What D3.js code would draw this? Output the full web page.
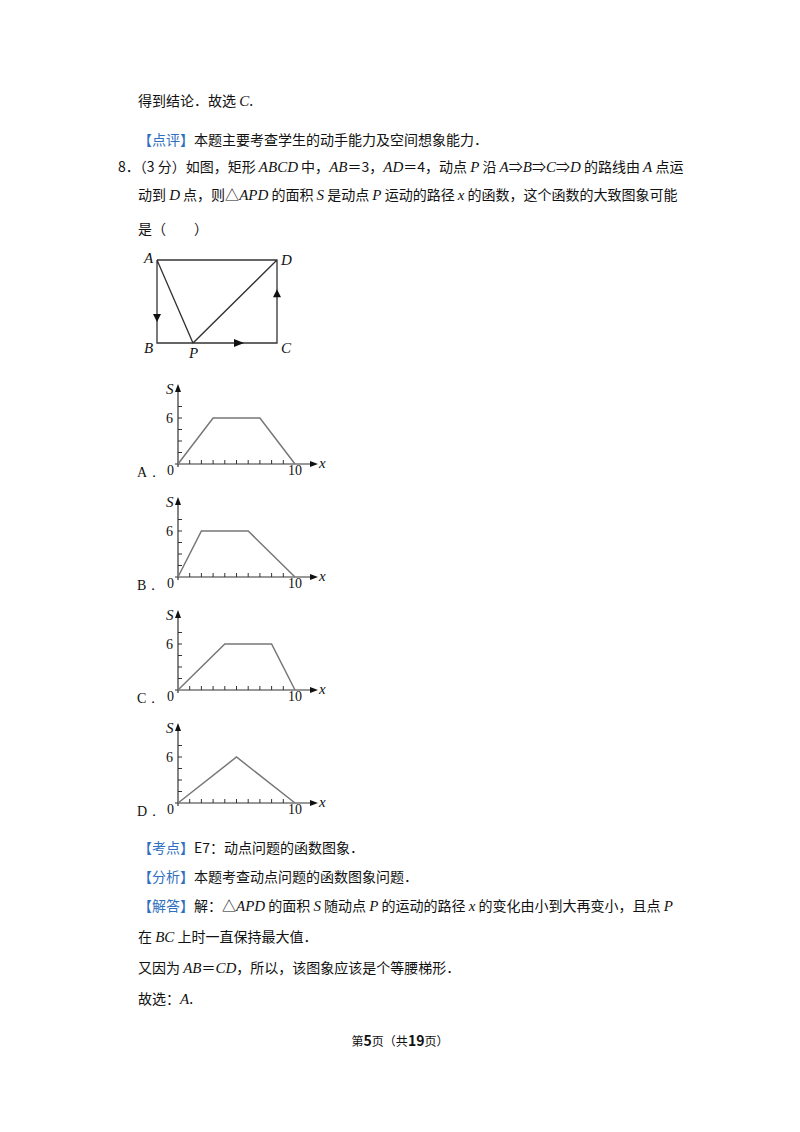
<!DOCTYPE html>
<html>
<head>
<meta charset="utf-8">
<script src="https://cdn.jsdelivr.net/npm/d3@7/dist/d3.min.js"></script>
<style>
  body { margin: 0; background: #fff; }
  svg text { font-family: "Noto Sans CJK SC", sans-serif; font-size: 14px; fill: #111; }
  .it { font-family: "Liberation Serif", serif; font-style: italic; font-size: 15px; }
  .rm { font-family: "Liberation Serif", serif; font-size: 14px; }
  .blue { fill: #2f6fc0; }
</style>
</head>
<body>
<div id="page"></div>
<script>
// graph options: [x, S] break points
var options = ["A", "B", "C", "D"];
var seriesA = [[0, 0], [3, 6], [7, 6], [10, 0]];
var seriesB = [[0, 0], [2, 6], [6, 6], [10, 0]];
var seriesC = [[0, 0], [4, 6], [8, 6], [10, 0]];
var seriesD = [[0, 0], [5, 6], [10, 0]];
var allSeries = [seriesA, seriesB, seriesC, seriesD];
var xTicks = [1, 2, 3, 4, 5, 6, 7, 8, 9];
var yTicks = [1.5, 3, 4.5, 6, 7.5];

var svg = d3.select("#page").append("svg").attr("width", 800).attr("height", 1132);

// text lines: array of [text, class] pieces
function line(x, y, parts) {
    var t = svg.append("text").attr("x", x).attr("y", y);
    parts.forEach(function (p) {
        var s = t.append("tspan").text(p[0]);
        if (p[1]) s.attr("class", p[1]);
    });
}

line(138, 106, [["得到结论．故选 "], ["C", "it"], ["."]]);
line(138, 145, [["【点评】", "blue"], ["本题主要考查学生的动手能力及空间想象能力．"]]);
line(118, 172, [["8．（3 分）如图，矩形 "], ["ABCD", "it"], [" 中，"], ["AB", "it"], ["＝3，"], ["AD", "it"], ["＝4，动点 "], ["P", "it"], [" 沿 "], ["A", "it"], ["⇒"], ["B", "it"], ["⇒"], ["C", "it"], ["⇒"], ["D", "it"], [" 的路线由 "], ["A", "it"], [" 点运"]]);
line(138, 200, [["动到 "], ["D", "it"], [" 点，则△"], ["APD", "it"], [" 的面积 "], ["S", "it"], [" 是动点 "], ["P", "it"], [" 运动的路径 "], ["x", "it"], [" 的函数，这个函数的大致图象可能"]]);
line(138, 234, [["是（　　）"]]);

// rectangle figure
var rx = d3.scaleLinear().domain([0, 4]).range([157, 277]);
var ry = d3.scaleLinear().domain([0, 3]).range([343, 260]);
var A = [0, 3], B = [0, 0], C = [4, 0], D = [4, 3], P = [1.2, 0];
var pt = function (p) { return [rx(p[0]), ry(p[1])]; };
svg.append("path")
    .attr("d", d3.line()([A, B, C, D, A].map(pt)) + "M" + pt(A) + "L" + pt(P) + "L" + pt(D))
    .attr("fill", "none").attr("stroke", "#333").attr("stroke-width", 1.3);
function tri(x, y, dir) {
    var s = 4, pts;
    if (dir === "down") pts = [[x - s, y - s], [x + s, y - s], [x, y + s]];
    if (dir === "up") pts = [[x - s, y + s], [x + s, y + s], [x, y - s]];
    if (dir === "right") pts = [[x - s, y - s], [x - s, y + s], [x + s + 2, y]];
    svg.append("path").attr("d", d3.line()(pts) + "Z").attr("fill", "#111");
}
tri(rx(0), ry(0.9), "down");
tri(rx(2.7), ry(0), "right");
tri(rx(4), ry(1.8), "up");
[["A", A, -13, 3], ["B", B, -13, 10], ["C", C, 4, 10], ["D", D, 4, 5], ["P", P, -4, 15]].forEach(function (l) {
    var p = pt(l[1]);
    svg.append("text").attr("class", "it").attr("x", p[0] + l[2]).attr("y", p[1] + l[3]).text(l[0]);
});

// function graphs
allSeries.forEach(function (data, i) {
    var oy = 464 + i * 113, ox = 178;
    var x = d3.scaleLinear().domain([0, 10]).range([ox, ox + 117]);
    var y = d3.scaleLinear().domain([0, 6]).range([oy, oy - 46]);
    var g = svg.append("g");
    g.append("line").attr("x1", ox - 3).attr("x2", ox + 137).attr("y1", oy).attr("y2", oy).attr("stroke", "#333").attr("stroke-width", 1.2);
    g.append("line").attr("x1", ox).attr("x2", ox).attr("y1", oy + 3).attr("y2", oy - 76).attr("stroke", "#333").attr("stroke-width", 1.2);
    g.append("path").attr("d", d3.line()([[ox + 132, oy - 3], [ox + 132, oy + 3], [ox + 140, oy]]) + "Z").attr("fill", "#111");
    g.append("path").attr("d", d3.line()([[ox - 3, oy - 72], [ox + 3, oy - 72], [ox, oy - 80]]) + "Z").attr("fill", "#111");
    g.selectAll(".xt").data(xTicks).enter().append("line")
        .attr("x1", function (d) { return x(d); }).attr("x2", function (d) { return x(d); })
        .attr("y1", oy).attr("y2", oy - 4).attr("stroke", "#333");
    g.selectAll(".yt").data(yTicks).enter().append("line")
        .attr("x1", ox).attr("x2", ox + 4)
        .attr("y1", function (d) { return y(d); }).attr("y2", function (d) { return y(d); }).attr("stroke", "#333");
    g.append("path").datum(data)
        .attr("d", d3.line().x(function (d) { return x(d[0]); }).y(function (d) { return y(d[1]); }))
        .attr("fill", "none").attr("stroke", "#777").attr("stroke-width", 1.5);
    g.append("text").attr("class", "rm").attr("x", ox - 12).attr("y", y(6) + 5).text("6");
    g.append("text").attr("class", "rm").attr("x", ox - 11).attr("y", oy + 11).text("0");
    g.append("text").attr("class", "rm").attr("x", x(10) - 7).attr("y", oy + 11).text("10");
    g.append("text").attr("class", "it").attr("x", ox + 141).attr("y", oy + 4).text("x");
    g.append("text").attr("class", "it").attr("x", ox - 12).attr("y", oy - 70).text("S");
    g.append("text").attr("class", "rm").attr("x", 137).attr("y", oy + 13).text(options[i] + "．");
});

line(138, 853, [["【考点】", "blue"], ["E7：动点问题的函数图象．"]]);
line(138, 882, [["【分析】", "blue"], ["本题考查动点问题的函数图象问题．"]]);
line(138, 911, [["【解答】", "blue"], ["解：△"], ["APD", "it"], [" 的面积 "], ["S", "it"], [" 随动点 "], ["P", "it"], [" 的运动的路径 "], ["x", "it"], [" 的变化由小到大再变小，且点 "], ["P", "it"]]);
line(138, 942, [["在 "], ["BC", "it"], [" 上时一直保持最大值．"]]);
line(138, 973, [["又因为 "], ["AB", "it"], ["＝"], ["CD", "it"], ["，所以，该图象应该是个等腰梯形．"]]);
line(138, 1004, [["故选："], ["A", "it"], ["."]]);

var f = svg.append("text").attr("x", 400).attr("y", 1046).attr("text-anchor", "middle").style("font-size", "12px");
f.append("tspan").text("第");
f.append("tspan").text("5").style("font-weight", "bold").style("font-size", "14px");
f.append("tspan").text("页（共");
f.append("tspan").text("19").style("font-weight", "bold").style("font-size", "14px");
f.append("tspan").text("页）");
</script>
</body>
</html>
